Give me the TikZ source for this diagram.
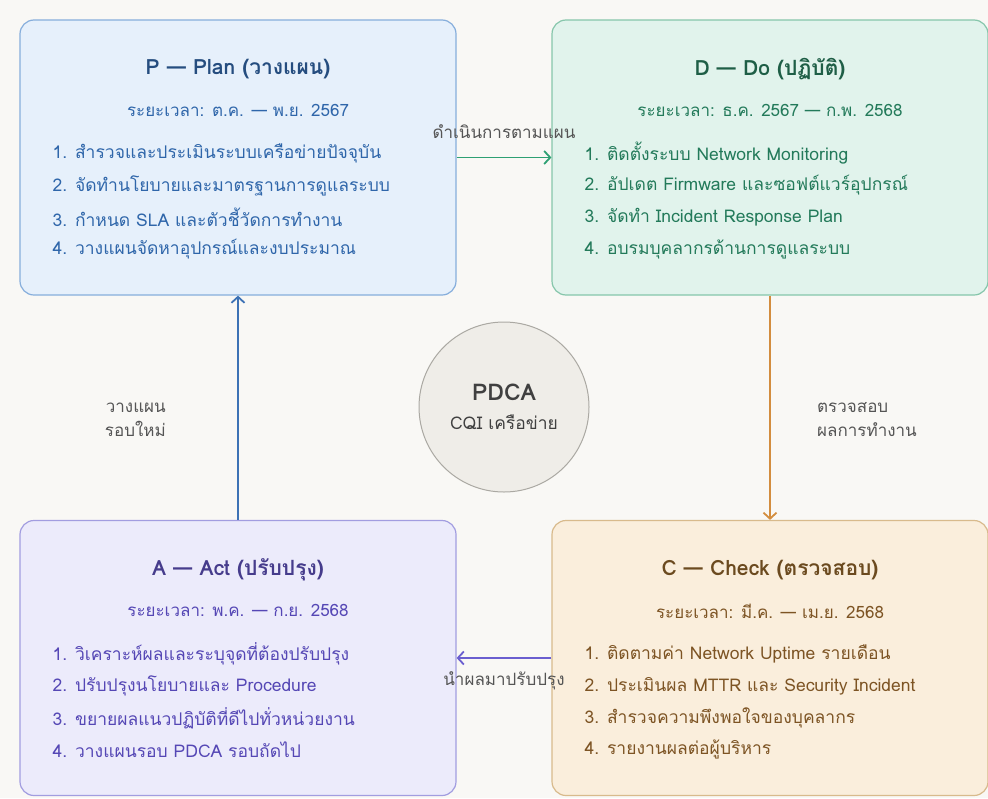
\documentclass[tikz,border=0pt]{standalone}
\usepackage{fontspec}
\setmainfont{Loma}[Script=Thai]
\usepackage{xcolor}
\definecolor{cBg}{HTML}{F9F8F5}
\definecolor{cLabel}{HTML}{555555}
\definecolor{cPlanFill}{HTML}{E6F0FB}
\definecolor{cPlanLine}{HTML}{86AEDC}
\definecolor{cPlanHead}{HTML}{254D7F}
\definecolor{cPlanText}{HTML}{2F66AA}
\definecolor{cPlanArrow}{HTML}{3D72B5}
\definecolor{cDoFill}{HTML}{E1F3EC}
\definecolor{cDoLine}{HTML}{86C6AB}
\definecolor{cDoHead}{HTML}{1E5E46}
\definecolor{cDoText}{HTML}{237A5A}
\definecolor{cDoArrow}{HTML}{2EA073}
\definecolor{cActFill}{HTML}{ECEBFB}
\definecolor{cActLine}{HTML}{A29DE0}
\definecolor{cActHead}{HTML}{463C8C}
\definecolor{cActText}{HTML}{5547B5}
\definecolor{cActArrow}{HTML}{6B5FD0}
\definecolor{cChkFill}{HTML}{FAEEDC}
\definecolor{cChkLine}{HTML}{D8BA8C}
\definecolor{cChkHead}{HTML}{6B4A1F}
\definecolor{cChkText}{HTML}{7D5424}
\definecolor{cChkArrow}{HTML}{D38D3E}
\definecolor{cHubFill}{HTML}{EFEDE8}
\definecolor{cHubLine}{HTML}{ABA9A3}
\definecolor{cHubText}{HTML}{404040}
\usetikzlibrary{positioning,arrows.meta,calc}
\tikzset{
  phase-box/.style={draw,line width=1.2pt,rounded corners=14pt,
    minimum width=436pt,minimum height=275pt,inner sep=0pt},
  phase-plan/.style={fill=cPlanFill,draw=cPlanLine},
  phase-do/.style={fill=cDoFill,draw=cDoLine},
  phase-act/.style={fill=cActFill,draw=cActLine},
  phase-check/.style={fill=cChkFill,draw=cChkLine},
  phase-title/.style={font=\fontsize{21}{25}\selectfont\bfseries,inner sep=0pt},
  phase-period/.style={font=\fontsize{17}{20}\selectfont,inner sep=0pt},
  phase-item/.style={font=\fontsize{17.5}{20}\selectfont,inner sep=0pt,anchor=west},
  hub/.style={circle,draw=cHubLine,fill=cHubFill,line width=1pt,
    minimum size=170pt,align=center,text=cHubText},
  arrow/.style={-{Straight Barb[length=6pt,width=13pt,line width=1.8pt]},line width=1.8pt},
  flow-label/.style={font=\fontsize{17}{24}\selectfont,text=cLabel,inner sep=0pt},
}

\begin{document}
\begin{tikzpicture}[x=1pt,y=-1pt]
  \useasboundingbox[fill=cBg] (0,0) rectangle (988,798);

  % สี่ช่วงของวงจร
  \node[phase-box,phase-plan] (p-box) at (238,157.5) {};
  \node[phase-box,phase-do] (d-box) at (770,157.5) {};
  \node[phase-box,phase-act] (a-box) at (238,658) {};
  \node[phase-box,phase-check] (c-box) at (770,658) {};

  % P
  \node[phase-title,text=cPlanHead] (p-title) at ([yshift=-50pt]p-box.north) {P — Plan (วางแผน)};
  \node[phase-period,text=cPlanText] (p-period) at ([yshift=-91pt]p-box.north) {ระยะเวลา: ต.ค. — พ.ย. 2567};
  \node[phase-item,text=cPlanText] (p-i1) at ([xshift=33pt,yshift=-134pt]p-box.north west) {1. สำรวจและประเมินระบบเครือข่ายปัจจุบัน};
  \node[phase-item,text=cPlanText,below=32pt of p-i1.west,anchor=west] (p-i2) {2. จัดทำนโยบายและมาตรฐานการดูแลระบบ};
  \node[phase-item,text=cPlanText,below=32pt of p-i2.west,anchor=west] (p-i3) {3. กำหนด SLA และตัวชี้วัดการทำงาน};
  \node[phase-item,text=cPlanText,below=32pt of p-i3.west,anchor=west] (p-i4) {4. วางแผนจัดหาอุปกรณ์และงบประมาณ};

  % D
  \node[phase-title,text=cDoHead] (d-title) at ([yshift=-50pt]d-box.north) {D — Do (ปฏิบัติ)};
  \node[phase-period,text=cDoText] (d-period) at ([yshift=-91pt]d-box.north) {ระยะเวลา: ธ.ค. 2567 — ก.พ. 2568};
  \node[phase-item,text=cDoText] (d-i1) at ([xshift=33pt,yshift=-134pt]d-box.north west) {1. ติดตั้งระบบ Network Monitoring};
  \node[phase-item,text=cDoText,below=32pt of d-i1.west,anchor=west] (d-i2) {2. อัปเดต Firmware และซอฟต์แวร์อุปกรณ์};
  \node[phase-item,text=cDoText,below=32pt of d-i2.west,anchor=west] (d-i3) {3. จัดทำ Incident Response Plan};
  \node[phase-item,text=cDoText,below=32pt of d-i3.west,anchor=west] (d-i4) {4. อบรมบุคลากรด้านการดูแลระบบ};

  % A
  \node[phase-title,text=cActHead] (a-title) at ([yshift=-50pt]a-box.north) {A — Act (ปรับปรุง)};
  \node[phase-period,text=cActText] (a-period) at ([yshift=-91pt]a-box.north) {ระยะเวลา: พ.ค. — ก.ย. 2568};
  \node[phase-item,text=cActText] (a-i1) at ([xshift=33pt,yshift=-134pt]a-box.north west) {1. วิเคราะห์ผลและระบุจุดที่ต้องปรับปรุง};
  \node[phase-item,text=cActText,below=32pt of a-i1.west,anchor=west] (a-i2) {2. ปรับปรุงนโยบายและ Procedure};
  \node[phase-item,text=cActText,below=32pt of a-i2.west,anchor=west] (a-i3) {3. ขยายผลแนวปฏิบัติที่ดีไปทั่วหน่วยงาน};
  \node[phase-item,text=cActText,below=32pt of a-i3.west,anchor=west] (a-i4) {4. วางแผนรอบ PDCA รอบถัดไป};

  % C
  \node[phase-title,text=cChkHead] (c-title) at ([yshift=-50pt]c-box.north) {C — Check (ตรวจสอบ)};
  \node[phase-period,text=cChkText] (c-period) at ([yshift=-91pt]c-box.north) {ระยะเวลา: มี.ค. — เม.ย. 2568};
  \node[phase-item,text=cChkText] (c-i1) at ([xshift=33pt,yshift=-134pt]c-box.north west) {1. ติดตามค่า Network Uptime รายเดือน};
  \node[phase-item,text=cChkText,below=32pt of c-i1.west,anchor=west] (c-i2) {2. ประเมินผล MTTR และ Security Incident};
  \node[phase-item,text=cChkText,below=32pt of c-i2.west,anchor=west] (c-i3) {3. สำรวจความพึงพอใจของบุคลากร};
  \node[phase-item,text=cChkText,below=32pt of c-i3.west,anchor=west] (c-i4) {4. รายงานผลต่อผู้บริหาร};

  % ศูนย์กลาง
  \node[hub] (hub) at (504,407) {{\fontsize{23}{26}\selectfont\bfseries PDCA}\\[13pt]{\fontsize{17.5}{20}\selectfont CQI เครือข่าย}};

  % ลูกศรวนรอบ
  \draw[arrow,draw=cDoArrow] (p-box.east) -- node[flow-label,above=18pt] (pd-label) {ดำเนินการตามแผน} (d-box.west);
  \draw[arrow,draw=cChkArrow] (d-box.south) -- (c-box.north);
  \node[flow-label,align=left,anchor=west] (dc-label) at ([xshift=47pt,yshift=-12pt]$(d-box.south)!0.5!(c-box.north)$) {ตรวจสอบ\\ผลการทำงาน};
  \draw[arrow,draw=cActArrow] (c-box.west) -- node[flow-label,below=13pt] (ca-label) {นำผลมาปรับปรุง} (a-box.east);
  \draw[arrow,draw=cPlanArrow] (a-box.north) -- (p-box.south);
  \node[flow-label,align=right,anchor=east] (ap-label) at ([xshift=-72pt,yshift=-12pt]$(a-box.north)!0.5!(p-box.south)$) {วางแผน\\รอบใหม่};
\end{tikzpicture}
\end{document}
